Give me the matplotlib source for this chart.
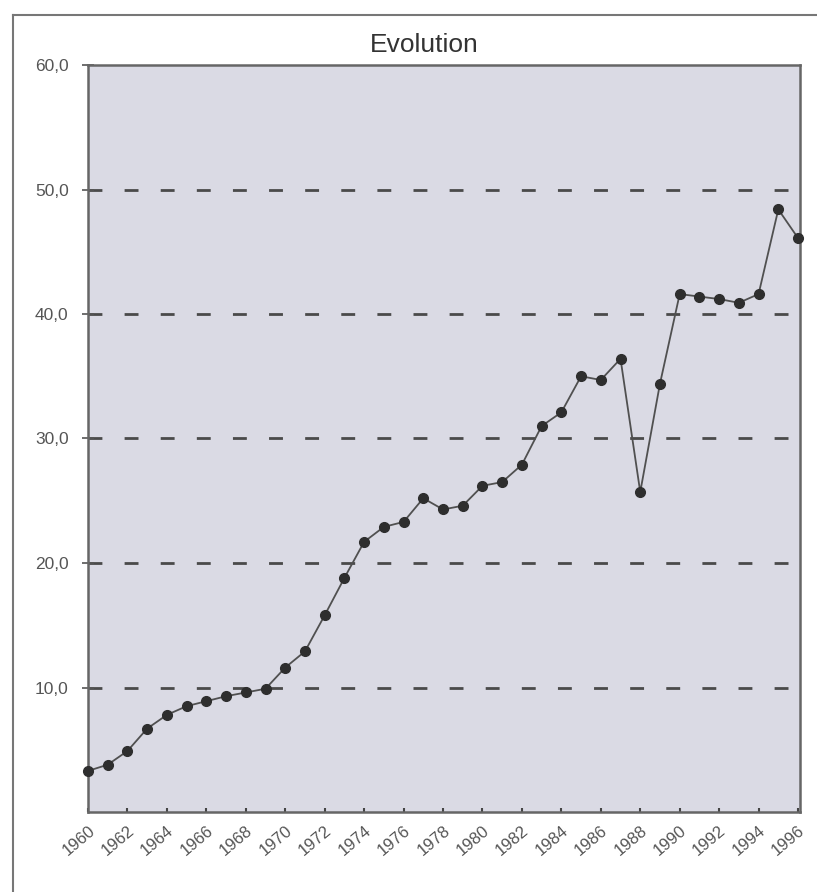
import matplotlib
matplotlib.use("Agg")
import matplotlib.pyplot as plt
from matplotlib.lines import Line2D

plt.rcParams['font.family'] = ['Liberation Sans', 'DejaVu Sans']
plt.rcParams['lines.scale_dashes'] = False

years = list(range(1960, 1997))
values = [3.3, 3.8, 4.9, 6.7, 7.8, 8.5, 8.9, 9.3, 9.6, 9.9,
          11.6, 12.9, 15.8, 18.8, 21.7, 22.9, 23.3, 25.2, 24.3, 24.6,
          26.2, 26.5, 27.9, 31.0, 32.1, 35.0, 34.7, 36.4, 25.7, 34.4,
          41.6, 41.4, 41.2, 40.9, 41.6, 48.4, 46.1]
x_ticks = list(range(1960, 1997, 2))
y_ticks = [10, 20, 30, 40, 50, 60]
y_labels = ["10,0", "20,0", "30,0", "40,0", "50,0", "60,0"]
title = "Evolution"

W, H = 817, 892
fig = plt.figure(figsize=(W / 100, H / 100), dpi=100)
fig.patch.set_facecolor('white')

ax = fig.add_axes([88 / W, 1 - 812 / H, (800 - 88) / W, (812 - 65) / H])
ax.set_facecolor('#dadae4')
ax.set_xlim(1960, 1996.1)
ax.set_ylim(0, 60)

for v in y_ticks[:-1]:
    ax.axhline(v, color='#4a4a4a', lw=2.0, dashes=(10, 16), zorder=1)

ax.plot(years, values, color='#505050', lw=1.3, marker='o', markersize=7,
        markerfacecolor='#2e2e2e', markeredgecolor='#2e2e2e', zorder=3,
        clip_on=False)

ax.set_yticks(y_ticks)
ax.set_yticklabels(y_labels, fontsize=12.5, color='#555555')
ax.set_xticks(x_ticks)
ax.set_xticklabels([str(y) for y in x_ticks], fontsize=12, color='#555555',
                   rotation=40, ha='right', rotation_mode='anchor')
ax.tick_params(axis='y', direction='inout', length=8, width=1.2, color='#555555', pad=10)
ax.tick_params(axis='x', direction='in', length=3, width=1.5, color='#444444', pad=8)

for s in ax.spines.values():
    s.set_color('#666666')
    s.set_linewidth(1.8)

fig.text(424 / W, 1 - 45 / H, title, fontsize=19, color='#333333',
         ha='center', va='center')

# outer chart frame
fig.add_artist(Line2D([13 / W, 13 / W], [0, 1 - 15 / H], transform=fig.transFigure,
                      color='#777777', lw=1.5))
fig.add_artist(Line2D([13 / W, 1], [1 - 15 / H, 1 - 15 / H], transform=fig.transFigure,
                      color='#777777', lw=1.5))

fig.savefig('out.png', dpi=100)
